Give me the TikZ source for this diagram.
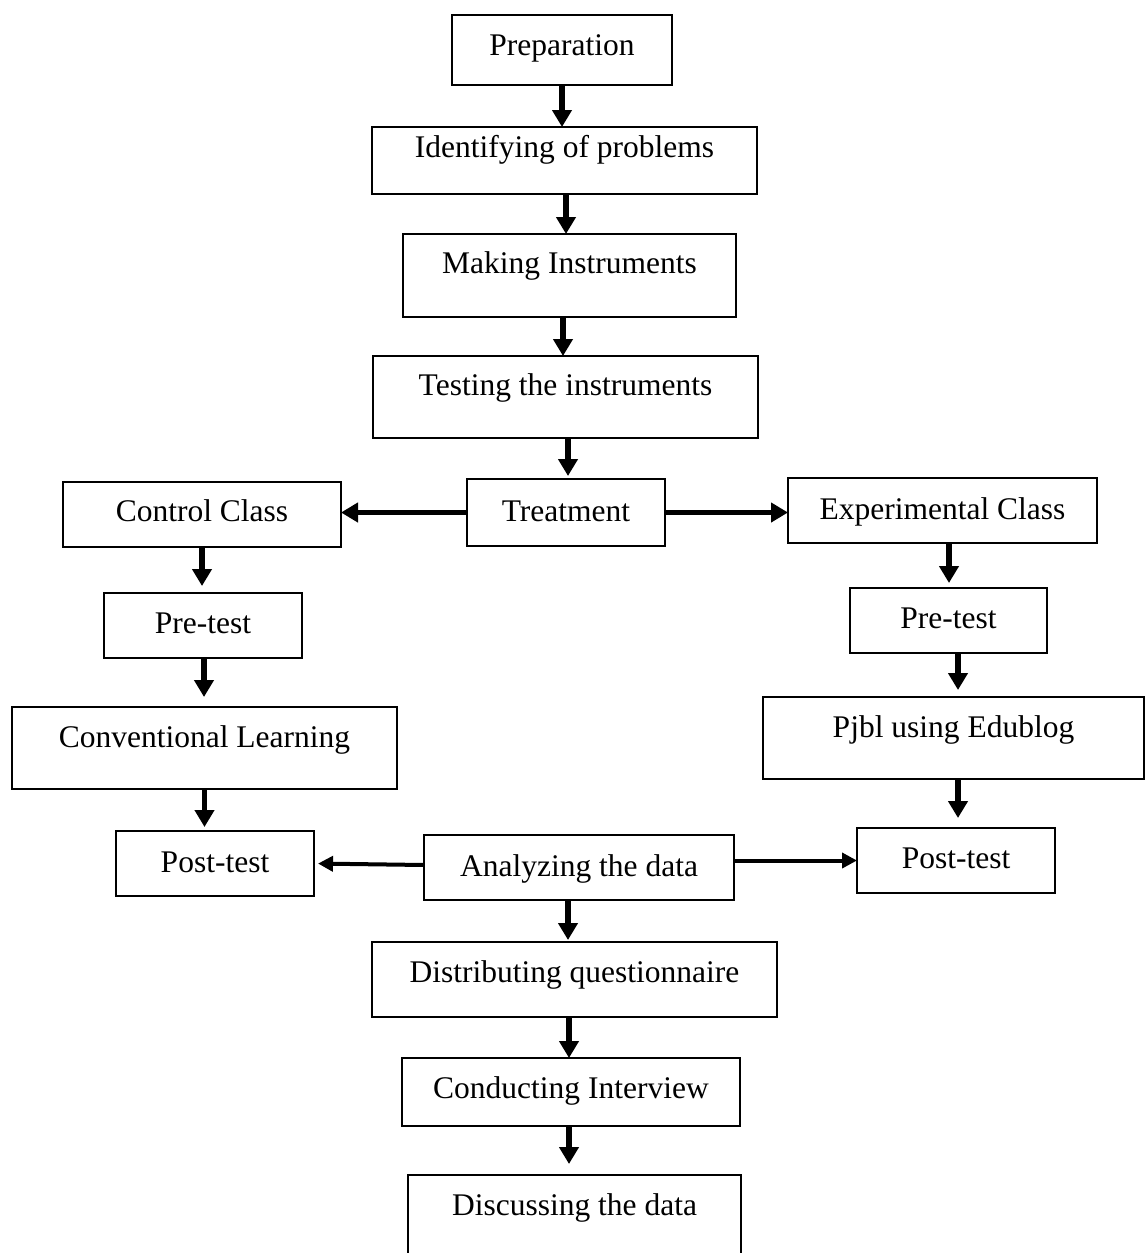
\documentclass[tikz,border=0pt]{standalone}
\usepackage{fontspec}
\setmainfont{Liberation Serif}
\usetikzlibrary{arrows.meta}
\newcommand\boxfont{\fontsize{31.5}{36}\selectfont}
\tikzset{
  stepbox/.style={draw, line width=1.8pt, inner sep=0pt, outer sep=0pt, anchor=base, font=\boxfont},
  varr/.style={line width=5.5pt, -{Triangle[width=19pt,length=17pt]}},
  thinarr/.style={line width=4pt, -{Triangle[width=15pt,length=15pt]}}
}
\begin{document}
\begin{tikzpicture}[x=1pt,y=-1pt]
\useasboundingbox (0,0) rectangle (1145,1253);
\clip (0,0) rectangle (1145,1253);
\fill[white] (0,0) rectangle (1145,1253);

\node[stepbox, minimum width=220pt, text height=40pt, text depth=30pt] (prep) at (562,55) {Preparation};
\node[stepbox, minimum width=385pt, text height=30pt, text depth=37pt] (ident) at (564.5,157) {Identifying of problems};
\node[stepbox, minimum width=333pt, text height=39pt, text depth=44pt] (make) at (569.5,273) {Making Instruments};
\node[stepbox, minimum width=385pt, text height=39pt, text depth=43pt] (test) at (565.5,395) {Testing the instruments};
\node[stepbox, minimum width=198pt, text height=42pt, text depth=25pt] (treat) at (566,521) {Treatment};
\node[stepbox, minimum width=278pt, text height=39pt, text depth=26pt] (ctrl) at (202,521) {Control Class};
\node[stepbox, minimum width=309pt, text height=41pt, text depth=24pt] (exp) at (942.5,519) {Experimental Class};
\node[stepbox, minimum width=198pt, text height=40pt, text depth=25pt] (pre1) at (203,633) {Pre-test};
\node[stepbox, minimum width=197pt, text height=40pt, text depth=25pt] (pre2) at (948.5,628) {Pre-test};
\node[stepbox, minimum width=385pt, text height=40pt, text depth=42pt] (conv) at (204.5,747) {Conventional Learning};
\node[stepbox, minimum width=381pt, text height=40pt, text depth=42pt] (pjbl) at (953.5,737) {Pjbl using Edublog};
\node[stepbox, minimum width=198pt, text height=41pt, text depth=24pt] (post1) at (215,872) {Post-test};
\node[stepbox, minimum width=310pt, text height=41pt, text depth=24pt] (anal) at (579,876) {Analyzing the data};
\node[stepbox, minimum width=198pt, text height=40pt, text depth=25pt] (post2) at (956,868) {Post-test};
\node[stepbox, minimum width=405pt, text height=40pt, text depth=35pt] (dist) at (574.5,982) {Distributing questionnaire};
\node[stepbox, minimum width=338pt, text height=40pt, text depth=28pt] (cond) at (571,1098) {Conducting Interview};
\node[stepbox, minimum width=333pt, text height=40pt, text depth=100pt] (disc) at (574.5,1215) {Discussing the data};

% vertical arrows
\draw[varr] (prep.south) -- (prep.south |- ident.north);
\draw[varr] ([xshift=1.5pt]ident.south) -- ([xshift=1.5pt]ident.south |- make.north);
\draw[varr] ([xshift=-6.5pt]make.south) -- ([xshift=-6.5pt]make.south |- test.north);
\draw[varr, shorten >=3pt] ([xshift=2.5pt]test.south) -- ([xshift=2.5pt]test.south |- treat.north);
\draw[varr, shorten >=7pt] (ctrl.south) -- (ctrl.south |- pre1.north);
\draw[varr, shorten >=10pt] ([xshift=1pt]pre1.south) -- ([xshift=1pt]pre1.south |- conv.north);
\draw[varr, shorten >=4pt] (conv.south) -- (conv.south |- post1.north);
\draw[varr, shorten >=5pt] ([xshift=6.5pt]exp.south) -- ([xshift=6.5pt]exp.south |- pre2.north);
\draw[varr, shorten >=7pt] ([xshift=9.5pt]pre2.south) -- ([xshift=9.5pt]pre2.south |- pjbl.north);
\draw[varr, shorten >=10pt] ([xshift=4.5pt]pjbl.south) -- ([xshift=4.5pt]pjbl.south |- post2.north);
\draw[varr, shorten >=2pt] ([xshift=-11pt]anal.south) -- ([xshift=-11pt]anal.south |- dist.north);
\draw[varr] ([xshift=-5.5pt]dist.south) -- ([xshift=-5.5pt]dist.south |- cond.north);
\draw[varr, shorten >=11pt] ([xshift=-2pt]cond.south) -- ([xshift=-2pt]cond.south |- disc.north);

% horizontal arrows
\draw[varr] (treat.west) -- (treat.west -| ctrl.east);
\draw[varr] (treat.east) -- (treat.east -| exp.west);
\draw[thinarr, shorten >=4pt] ([yshift=2.5pt]anal.west) -- (post1.east);
\draw[thinarr] (post2.west -| anal.east) -- (post2.west);
\end{tikzpicture}
\end{document}
